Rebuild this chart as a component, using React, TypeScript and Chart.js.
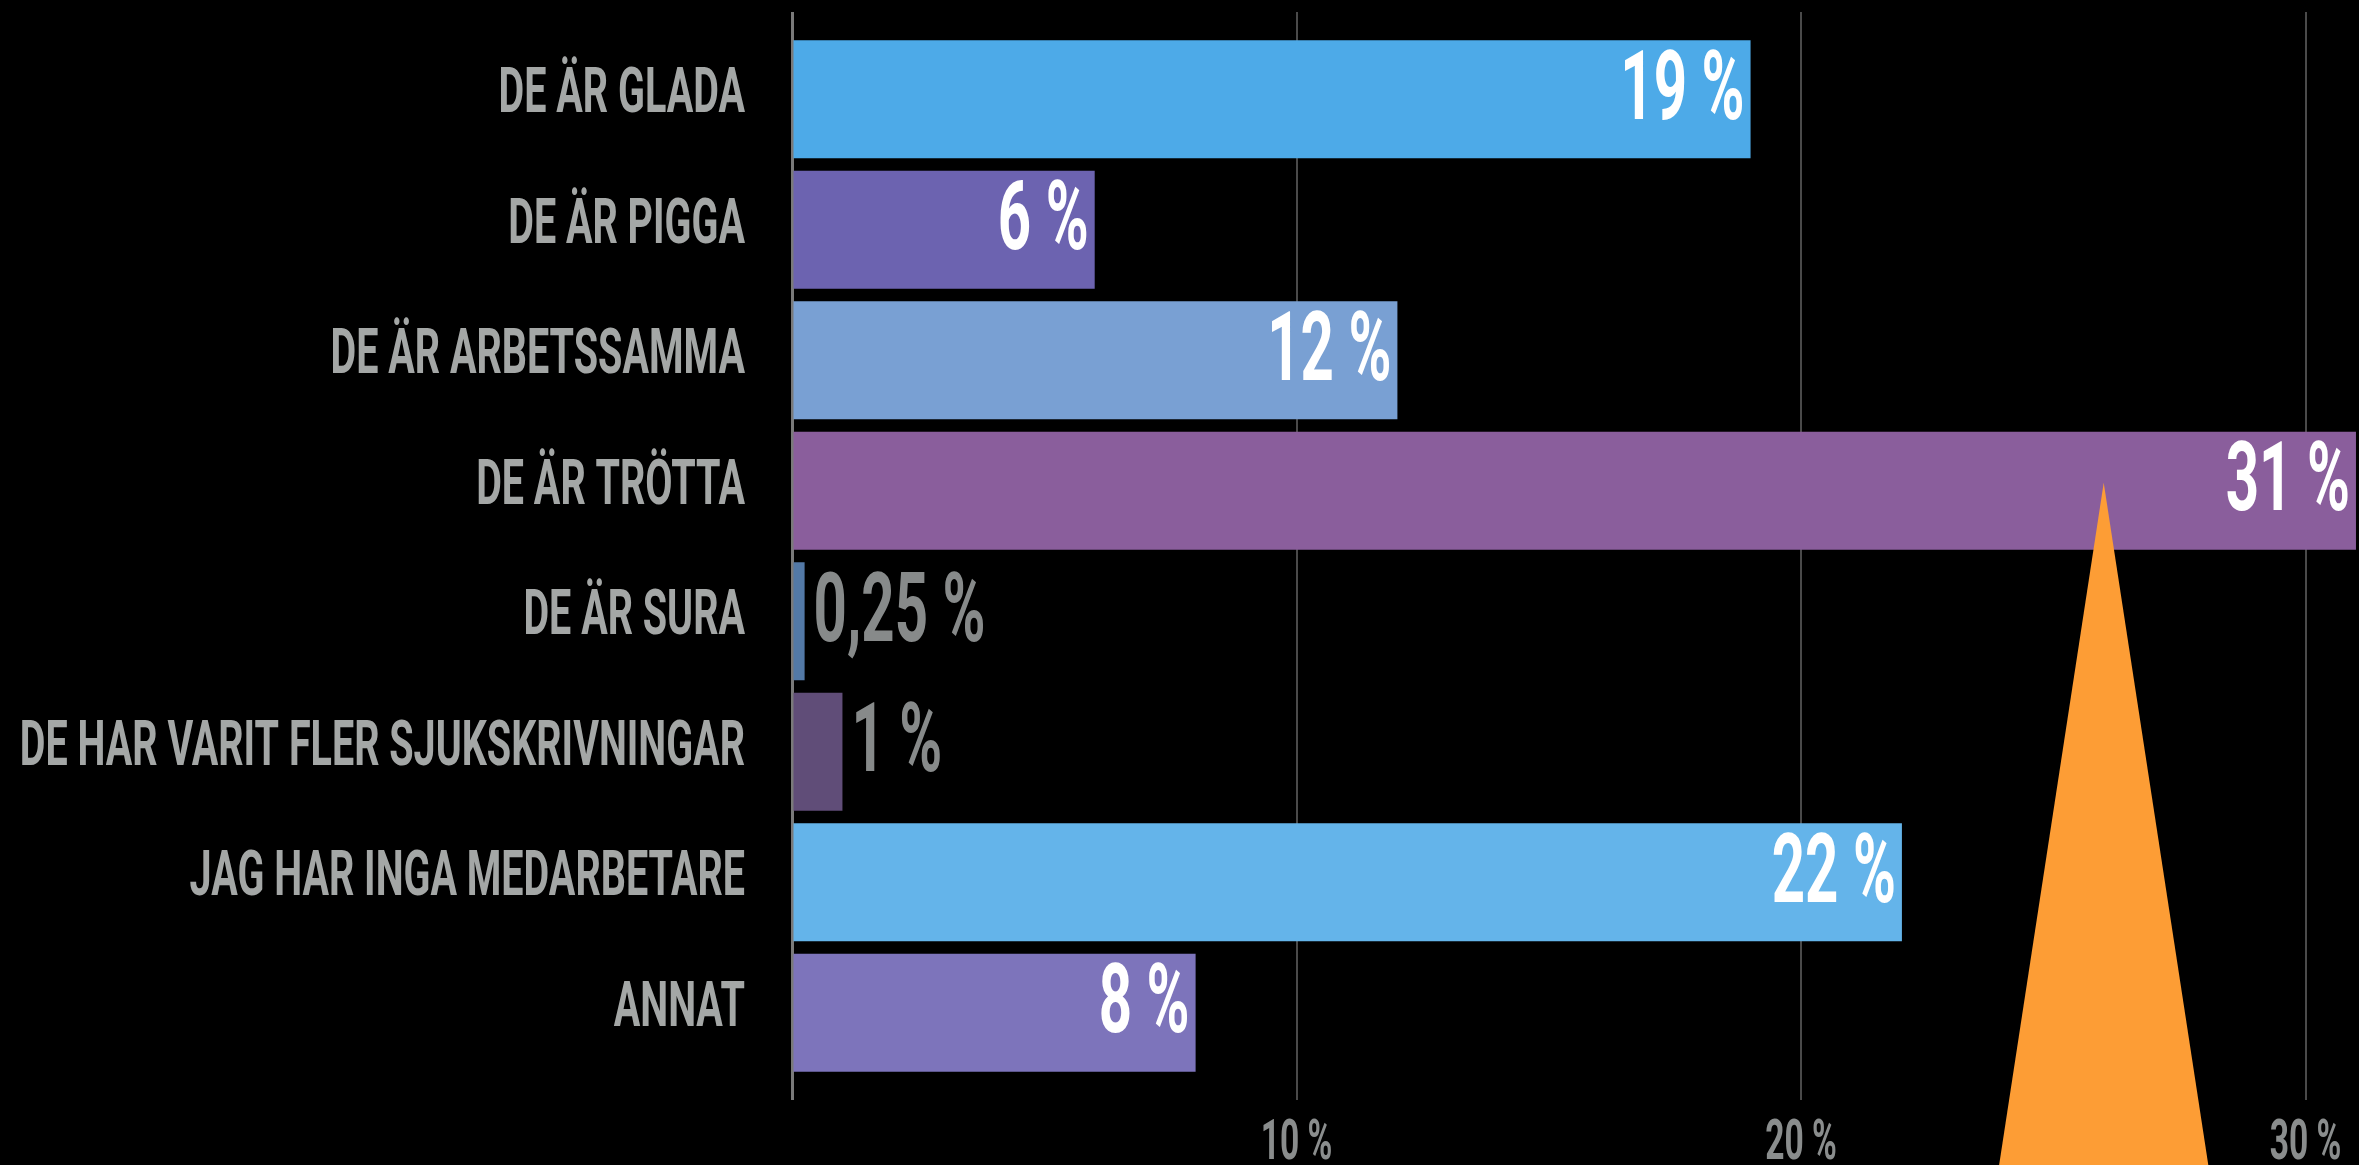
import { useEffect, useRef } from "react";
import { Chart, registerables } from "chart.js";

Chart.register(...registerables);

// ---- data ----
const CATEGORIES = [
  "DE ÄR GLADA",
  "DE ÄR PIGGA",
  "DE ÄR ARBETSSAMMA",
  "DE ÄR TRÖTTA",
  "DE ÄR SURA",
  "DE HAR VARIT FLER SJUKSKRIVNINGAR",
  "JAG HAR INGA MEDARBETARE",
  "ANNAT",
];
const VALUES = [19, 6, 12, 31, 0.25, 1, 22, 8];
const BAR_COLORS = [
  "#4DAAE8",
  "#6C63B0",
  "#79A0D3",
  "#8A5E9C",
  "#5379A6",
  "#604D78",
  "#64B4EA",
  "#7D74BB",
];
const X_TICKS = [10, 20, 30];
const X_MAX = 31.06;
// decorative orange pointer, anchored in data units
const MARKER_VALUE = 26;
const MARKER_CATEGORY = 3;

// ---- style ----
const FONT = "Roboto";
const CONDENSE = 0.6;
const CONDENSE_LABELS = 0.627;

function fmt(v: number) {
  return String(v).replace(".", ",") + " %";
}

function drawCondensed(
  ctx: CanvasRenderingContext2D,
  text: string,
  x: number,
  y: number,
  align: CanvasTextAlign,
  font: string,
  color: string,
  sx: number = CONDENSE
) {
  ctx.save();
  ctx.font = font;
  ctx.fillStyle = color;
  ctx.textAlign = align;
  ctx.textBaseline = "alphabetic";
  ctx.translate(x, y);
  ctx.scale(sx, 1);
  ctx.fillText(text, 0, 0);
  ctx.restore();
}

export default function App() {
  const ref = useRef<HTMLCanvasElement>(null);

  useEffect(() => {
    document.body.style.margin = "0";
    document.body.style.background = "#000";
    const canvas = ref.current!;

    const keepTicks = (scale: any) => {
      scale.ticks = [0].concat(X_TICKS).map((v) => ({ value: v }));
    };

    const gridColor = (c: any) => (c.tick && c.tick.value === 0 ? "#7A7A7A" : "#4A4A4A");
    const gridWidth = (c: any) => (c.tick && c.tick.value === 0 ? 3 : 2);

    const labelPlugin = {
      id: "customLabels",
      beforeDraw(chart: any) {
        const { ctx, width, height } = chart;
        ctx.save();
        ctx.fillStyle = "#000";
        ctx.fillRect(0, 0, width, height);
        ctx.restore();
      },
      afterDatasetsDraw(chart: any) {
        const { ctx } = chart;
        const xs = chart.scales.x;
        const ys = chart.scales.y;

        // orange pointer
        const ax = xs.getPixelForValue(MARKER_VALUE);
        const ay = ys.getPixelForTick(MARKER_CATEGORY) - 8;
        const by = chart.height;
        const half = (by - ay) * 0.1533;
        ctx.save();
        ctx.fillStyle = "#FD9D35";
        ctx.beginPath();
        ctx.moveTo(ax, ay);
        ctx.lineTo(ax + half, by);
        ctx.lineTo(ax - half, by);
        ctx.closePath();
        ctx.fill();
        ctx.restore();

        // value labels
        const meta = chart.getDatasetMeta(0);
        const vFont = `bold 97px ${FONT}`;
        meta.data.forEach((bar: any, i: number) => {
          const p = bar.getProps(["x", "y", "base"], true);
          const text = fmt(VALUES[i]);
          ctx.save();
          ctx.font = vFont;
          const w = ctx.measureText(text).width * CONDENSE;
          ctx.restore();
          const barW = p.x - p.base;
          const baseline = p.y + 19.5;
          if (w + 14 < barW) {
            drawCondensed(ctx, text, p.x - 6, baseline, "right", vFont, "#FFFFFF");
          } else {
            drawCondensed(ctx, text, p.x + 9, baseline, "left", vFont, "#878A8A");
          }
        });
      },
      afterDraw(chart: any) {
        const { ctx, chartArea } = chart;
        const xs = chart.scales.x;
        const ys = chart.scales.y;
        const yFont = `bold 63px ${FONT}`;
        CATEGORIES.forEach((label, i) => {
          drawCondensed(
            ctx,
            label,
            chartArea.left - 47,
            ys.getPixelForTick(i) + 13,
            "right",
            yFont,
            "#A4A7A6",
            CONDENSE_LABELS
          );
        });
        const xFont = `bold 56px ${FONT}`;
        X_TICKS.forEach((v) => {
          drawCondensed(ctx, fmt(v), xs.getPixelForValue(v), chartArea.bottom + 81, "center", xFont, "#8A8D8D");
        });
      },
    };

    const chart = new Chart(canvas, {
      type: "bar",
      data: {
        labels: CATEGORIES,
        datasets: [
          {
            data: VALUES,
            backgroundColor: BAR_COLORS,
            borderWidth: 0,
            barPercentage: 0.904,
            categoryPercentage: 1,
            xAxisID: "x",
            yAxisID: "y",
          },
        ],
      },
      options: {
        indexAxis: "y",
        responsive: false,
        animation: false,
        devicePixelRatio: 1,
        layout: { padding: { left: 792, top: 12, right: 0, bottom: 0 } },
        plugins: { legend: { display: false }, tooltip: { enabled: false } },
        scales: {
          y: { display: false },
          x: {
            type: "linear",
            position: "bottom",
            min: 0,
            max: X_MAX,
            afterBuildTicks: keepTicks,
            afterFit: (s: any) => {
              s.height = 87;
            },
            ticks: { display: false },
            border: { display: false },
            grid: {
              color: gridColor,
              lineWidth: gridWidth,
              drawTicks: true,
              tickLength: 22,
            },
          },
          xTop: {
            type: "linear",
            axis: "x",
            position: "top",
            min: 0,
            max: X_MAX,
            afterBuildTicks: keepTicks,
            afterFit: (s: any) => {
              s.height = 22;
            },
            ticks: { display: false },
            border: { display: false },
            grid: {
              color: gridColor,
              lineWidth: gridWidth,
              drawOnChartArea: false,
              drawTicks: true,
              tickLength: 22,
            },
          },
        },
      } as any,
      plugins: [labelPlugin],
    });

    return () => chart.destroy();
  }, []);

  return (
    <div style={{ position: "fixed", left: 0, top: 0, width: 2359, height: 1165, background: "#000" }}>
      <canvas ref={ref} width={2359} height={1165} style={{ display: "block" }} />
    </div>
  );
}
